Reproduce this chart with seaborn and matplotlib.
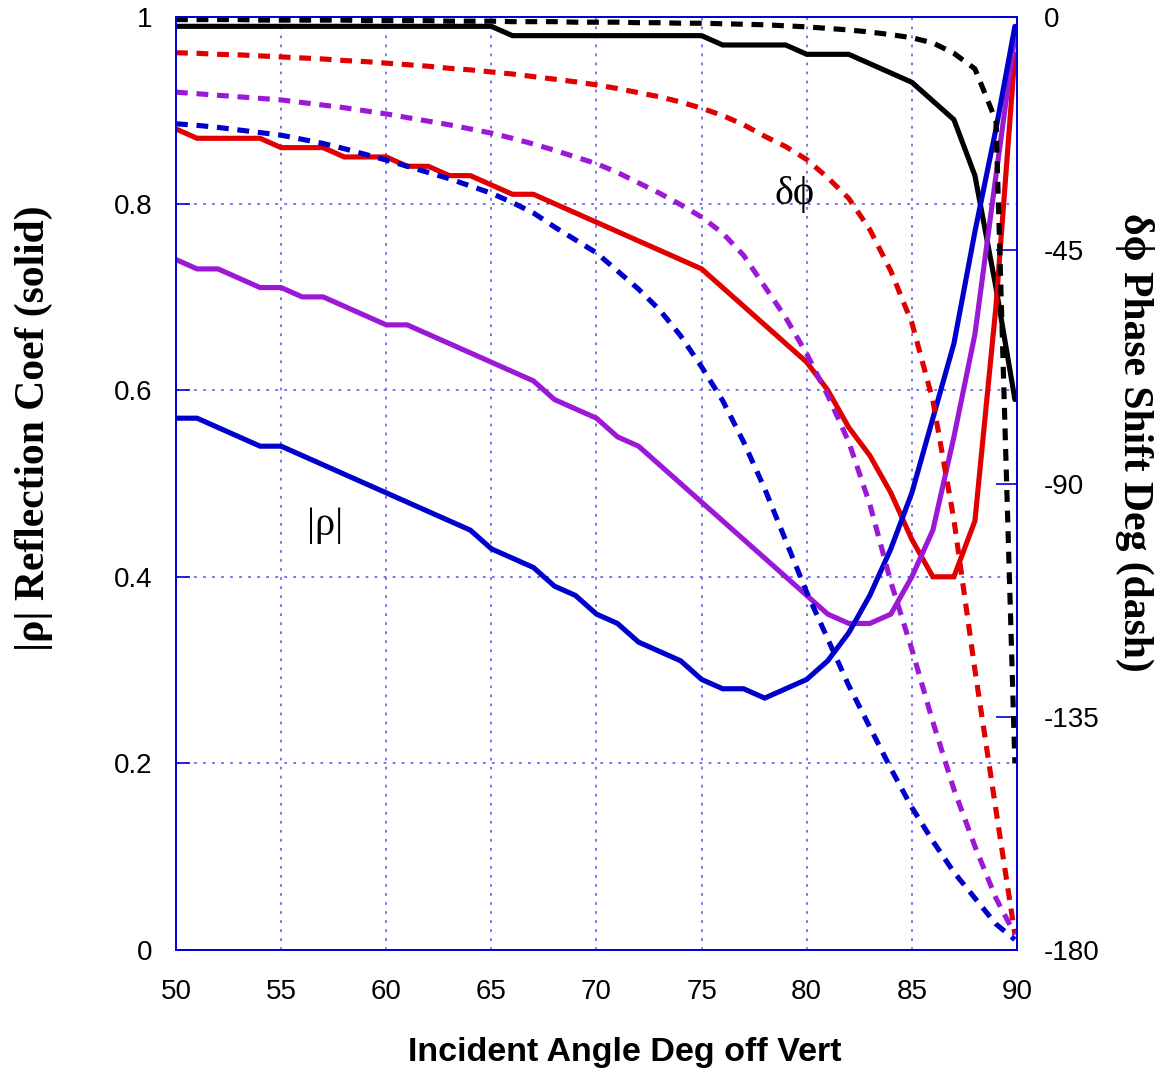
import numpy as np
import pandas as pd
import matplotlib
matplotlib.use("Agg")
import matplotlib.pyplot as plt
import seaborn as sns

# incident angle (deg off vertical)
angle = list(range(50, 90)) + [89.9]

# |rho| reflection coefficient (solid lines)
black_mag = [0.99] * 16 + [0.98] * 10 + [0.97] * 4 + [0.96] * 3 + \
    [0.95, 0.94, 0.93, 0.91, 0.89, 0.83, 0.71, 0.59]
red_mag = [0.88, 0.87, 0.87, 0.87, 0.87, 0.86, 0.86, 0.86, 0.85, 0.85,
           0.85, 0.84, 0.84, 0.83, 0.83, 0.82, 0.81, 0.81, 0.80, 0.79,
           0.78, 0.77, 0.76, 0.75, 0.74, 0.73, 0.71, 0.69, 0.67, 0.65,
           0.63, 0.60, 0.56, 0.53, 0.49, 0.44, 0.40, 0.40, 0.46, 0.69, 0.96]
purple_mag = [0.74, 0.73, 0.73, 0.72, 0.71, 0.71, 0.70, 0.70, 0.69, 0.68,
              0.67, 0.67, 0.66, 0.65, 0.64, 0.63, 0.62, 0.61, 0.59, 0.58,
              0.57, 0.55, 0.54, 0.52, 0.50, 0.48, 0.46, 0.44, 0.42, 0.40,
              0.38, 0.36, 0.35, 0.35, 0.36, 0.40, 0.45, 0.55, 0.66, 0.83, 0.98]
blue_mag = [0.57, 0.57, 0.56, 0.55, 0.54, 0.54, 0.53, 0.52, 0.51, 0.50,
            0.49, 0.48, 0.47, 0.46, 0.45, 0.43, 0.42, 0.41, 0.39, 0.38,
            0.36, 0.35, 0.33, 0.32, 0.31, 0.29, 0.28, 0.28, 0.27, 0.28,
            0.29, 0.31, 0.34, 0.38, 0.43, 0.49, 0.57, 0.65, 0.77, 0.88, 0.99]

# phase shift in degrees (dashed lines)
black_ph = [-0.5, -0.5, -0.5, -0.5, -0.6, -0.6, -0.6, -0.6, -0.6, -0.7,
            -0.7, -0.7, -0.7, -0.8, -0.8, -0.8, -0.9, -0.9, -0.9, -1.0,
            -1.0, -1.0, -1.1, -1.1, -1.2, -1.2, -1.3, -1.4, -1.5, -1.7,
            -1.9, -2.2, -2.5, -2.9, -3.4, -4.0, -5.0, -7.0, -10.0, -20.0, -144.0]
red_ph = [-6.9, -7.0, -7.2, -7.3, -7.5, -7.7, -7.9, -8.1, -8.4, -8.6,
          -8.9, -9.2, -9.5, -9.9, -10.2, -10.6, -11.0, -11.5, -12.0, -12.5,
          -13.1, -13.8, -14.6, -15.4, -16.4, -17.6, -19.0, -20.8, -23.0, -25.0,
          -27.5, -31.0, -35.0, -41.0, -49.0, -59.0, -74.0, -97.0, -126.0, -153.0, -177.0]
purple_ph = [-14.5, -14.8, -15.1, -15.4, -15.7, -16.0, -16.5, -17.0, -17.5, -18.1,
             -18.7, -19.4, -20.1, -20.8, -21.6, -22.4, -23.4, -24.5, -25.7, -27.0,
             -28.3, -30.0, -32.0, -34.0, -36.2, -38.6, -41.7, -46.0, -52.0, -58.0,
             -65.0, -73.0, -82.0, -94.0, -109.0, -122.0, -136.0, -149.0, -160.0, -170.0, -177.0]
blue_ph = [-20.6, -20.9, -21.3, -21.8, -22.3, -22.8, -23.6, -24.4, -25.4, -26.5,
           -27.6, -28.8, -30.0, -31.2, -32.6, -34.0, -35.8, -37.8, -40.5, -43.0,
           -45.5, -49.0, -52.5, -56.5, -61.5, -67.5, -74.0, -82.0, -91.0, -101.0,
           -111.0, -120.0, -129.0, -137.0, -145.0, -152.5, -159.0, -165.0, -170.0, -175.0, -178.0]

x_ticks = [50, 55, 60, 65, 70, 75, 80, 85, 90]
mag_ticks = [0, 0.2, 0.4, 0.6, 0.8, 1]
mag_labels = ["0", "0.2", "0.4", "0.6", "0.8", "1"]
ph_ticks = [0, -45, -90, -135, -180]

colors = {"black": "#000000", "red": "#e00000", "purple": "#9b19d6", "blue": "#0000cc"}
mags = {"black": black_mag, "red": red_mag, "purple": purple_mag, "blue": blue_mag}
phases = {"black": black_ph, "red": red_ph, "purple": purple_ph, "blue": blue_ph}

sns.set_style("white")
plt.rcParams['font.family'] = ['Liberation Sans', 'DejaVu Sans']
plt.rcParams['axes.unicode_minus'] = False
plt.rcParams['text.color'] = 'black'
plt.rcParams['axes.labelcolor'] = 'black'

frame_blue = "#0000dd"
grid_blue = "#6a6af0"

fig = plt.figure(figsize=(11.64, 10.76), dpi=100)
ax = fig.add_axes([0.1512, 0.1171, 0.7225, 0.8671])
ax2 = ax.twinx()

for name in ["black", "red", "purple", "blue"]:
    sns.lineplot(x=angle, y=mags[name], ax=ax, color=colors[name],
                 linewidth=3.7, solid_joinstyle="miter")
for name in ["black", "red", "purple", "blue"]:
    sns.lineplot(x=angle, y=phases[name], ax=ax2, color=colors[name],
                 linewidth=3.7, linestyle=(0, (2.3, 1.7)))

ax.set_xlim(50, 90)
ax.set_ylim(0, 1)
ax2.set_ylim(-180, 0)
ax.set_xticks(x_ticks)
ax.set_yticks(mag_ticks)
ax.set_yticklabels(mag_labels)
ax2.set_yticks(ph_ticks)

ax.grid(True, color=grid_blue, linestyle=(0, (1.5, 3.5)), linewidth=1.3)
ax2.grid(False)
for a in (ax, ax2):
    for sp in a.spines.values():
        sp.set_color(frame_blue)
        sp.set_linewidth(1.3)

ax.tick_params(axis="both", direction="in", length=10, width=1.2, color=frame_blue,
               labelsize=20, labelcolor="black")
ax.tick_params(axis="x", pad=21)
ax.tick_params(axis="y", pad=17)
ax2.tick_params(axis="y", direction="in", length=15, width=1.2, color=frame_blue,
                labelsize=20, labelcolor="black", pad=19)
ax.set_xlabel("")
ax.set_ylabel("")
ax2.set_ylabel("")

serif = ['Liberation Serif', 'DejaVu Serif']
fig.text(625 / 1164, 1 - 1052 / 1076, "Incident Angle Deg off Vert", fontsize=24.5,
         fontweight="bold", ha="center", va="center")
fig.text(34 / 1164, 1 - 428 / 1076, "|ρ| Reflection Coef (solid)", fontsize=30,
         fontweight="bold", family=serif, rotation=90, ha="center", va="center")
fig.text(1135 / 1164, 1 - 442 / 1076, "δϕ Phase Shift Deg (dash)", fontsize=30,
         fontweight="bold", family=serif, rotation=270, ha="center", va="center")

ax.text(0.177, 0.455, "|ρ|", transform=ax.transAxes, fontsize=29, family=serif,
        ha="center", va="center")
ax.text(0.735, 0.81, "δϕ", transform=ax.transAxes, fontsize=29, family=serif,
        ha="center", va="center")

fig.savefig("out.png", dpi=100)
